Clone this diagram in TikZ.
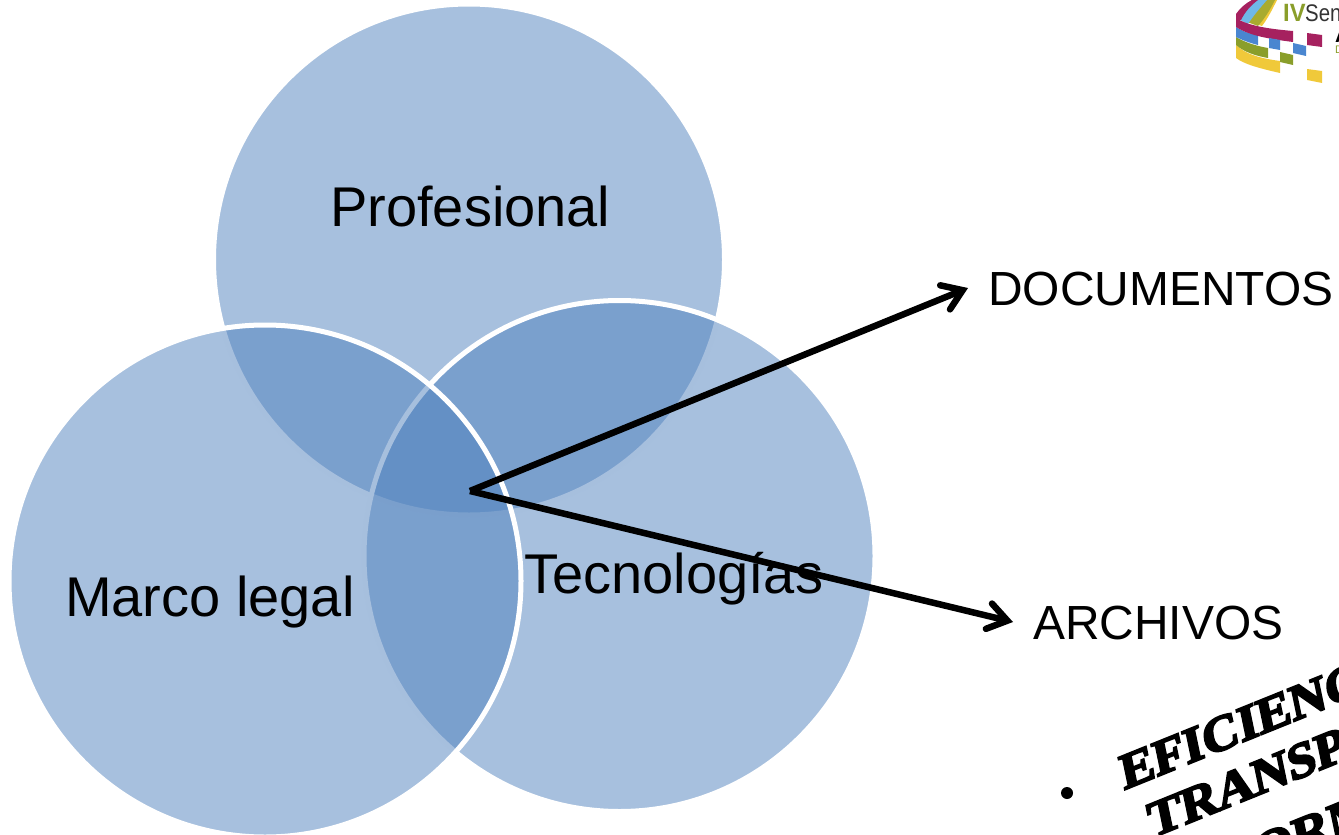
\documentclass[tikz,border=0pt]{standalone}
\usepackage{fontspec}
\setmainfont{Liberation Sans}
\newfontfamily\wordart[FakeBold=4]{Liberation Serif Bold}
\usetikzlibrary{arrows.meta}
\definecolor{venn}{HTML}{4F81BD}
\definecolor{lgmag}{HTML}{A6215F}
\definecolor{lgblue}{HTML}{4A86D0}
\definecolor{lgsky}{HTML}{6FB8E8}
\definecolor{lggreen}{HTML}{8A9E2A}
\definecolor{lgyellow}{HTML}{F0C93A}
\tikzset{
  x=1pt,y=-1pt,
  vennc/.style={circle,inner sep=0pt,outer sep=0pt,minimum size=#1,fill=venn,fill opacity=.5,draw=white,draw opacity=1,line width=5pt},
  vlabel/.style={font=\fontsize{56}{60}\selectfont,text=black,inner sep=0pt,anchor=base west},
  target/.style={font=\fontsize{47.9}{52}\selectfont,text=black,inner ysep=0pt,inner xsep=20pt,anchor=west},
  link/.style={draw=black,line width=6.5pt,line join=miter,-{Straight Barb[length=19pt,width=26pt,line width=6.5pt,line cap=round,line join=miter]}},
  wa/.style={font=\wordart\fontsize{#1}{#1}\selectfont,text=black,inner sep=0pt,rotate=22,xslant=.18,xscale=1.08,anchor=base west},
  logotext/.style={inner sep=0pt,anchor=base west}
}
\begin{document}
\begin{tikzpicture}
\useasboundingbox (0,0) rectangle (1339,835);
\clip (0,0) rectangle (1339,835);
\node[vennc=511pt] (prof) at (469,259.5) {};
\node[vennc=511pt] (tecn) at (619.5,556) {};
\node[vennc=512pt] (marc) at (265,581) {};
\node[vlabel] (lprof) at (330,226.5) {Profesional};
\node[vlabel] (lmarc) at (65,616.5) {Marco legal};
\node[vlabel] (ltecn) at (524,593) {Tecnologías};
\coordinate (hub) at (470,491);
\node[target] (doc) at (968,289.5) {DOCUMENTOS};
\node[target] (arc) at (1013,623) {ARCHIVOS};
\draw[link] (hub) -- ([yshift=1.5pt]doc.west);
\draw[link] (hub) -- ([yshift=1pt]arc.west);
% logo
\fill[lgyellow] (1236,18) .. controls (1242,8) and (1248,3) .. (1252,0) -- (1277,0) .. controls (1272,10) and (1268,18) .. (1262,26) -- cycle;
\fill[lggreen!70!lgyellow] (1236,18) .. controls (1242,8) and (1248,3) .. (1252,0) -- (1275,0) .. controls (1270,10) and (1265,18) .. (1258,26) -- cycle;
\fill[lgsky] (1236,18) .. controls (1242,8) and (1248,3) .. (1252,0) -- (1267,0) .. controls (1260,8) and (1254,15) .. (1248,24) -- cycle;
\fill[lgmag] (1236,14) .. controls (1240,8) and (1246,3) .. (1252,0) -- (1258,0) .. controls (1250,6) and (1245,12) .. (1241,20) -- (1236,20) -- cycle;
\fill[lgyellow] (1236,45) .. controls (1246,54) and (1258,58) .. (1280,61) -- (1280,73) .. controls (1258,68) and (1244,64) .. (1236,58) -- cycle;
\fill[lggreen] (1236,37) .. controls (1244,42) and (1256,46) .. (1268,48) -- (1268,58) .. controls (1256,56) and (1244,52) .. (1236,45) -- cycle;
\fill[lgblue] (1236,27) .. controls (1242,31) and (1250,34) .. (1258,35) -- (1258,45) .. controls (1250,43) and (1242,40) .. (1236,37) -- cycle;
\fill[lgmag] (1236,18) .. controls (1248,26) and (1270,29) .. (1293,31) -- (1293,42) .. controls (1270,39) and (1250,36) .. (1236,27) -- cycle;
\fill[lgmag] (1307,33) -- (1322,35) -- (1322,47) -- (1307,45) -- cycle;
\fill[lgblue] (1269,38) -- (1280,40) -- (1280,50) -- (1269,48) -- cycle;
\fill[lgblue] (1293,43) -- (1306,46) -- (1306,56) -- (1293,53) -- cycle;
\fill[lggreen] (1280,52) -- (1293,55) -- (1293,65) -- (1280,62) -- cycle;
\fill[lgyellow] (1307,69) -- (1322,71) -- (1322,83) -- (1307,80) -- cycle;
\node[logotext,font=\fontsize{25}{25}\selectfont\bfseries,text=lggreen,xscale=.95] (iv) at (1283,21) {IV};
\node[logotext,font=\fontsize{24}{24}\selectfont,text=black!80,xscale=.85] (sem) at (1305,21) {Sen};
\node[logotext,font=\fontsize{21}{21}\selectfont\bfseries,text=black] (a) at (1335,42) {A};
\node[logotext,font=\fontsize{11}{11}\selectfont,text=lggreen] (d) at (1335,53) {D};
% bottom-right text
\fill[black] (1067,793) circle (6);
\node[wa=49] (w1) at (1124,790) {EFICIENC};
\node[wa=49] (w2) at (1152,838) {TRANSP};
\node[wa=49] (w3) at (1258,870) {ORM};
\end{tikzpicture}
\end{document}
